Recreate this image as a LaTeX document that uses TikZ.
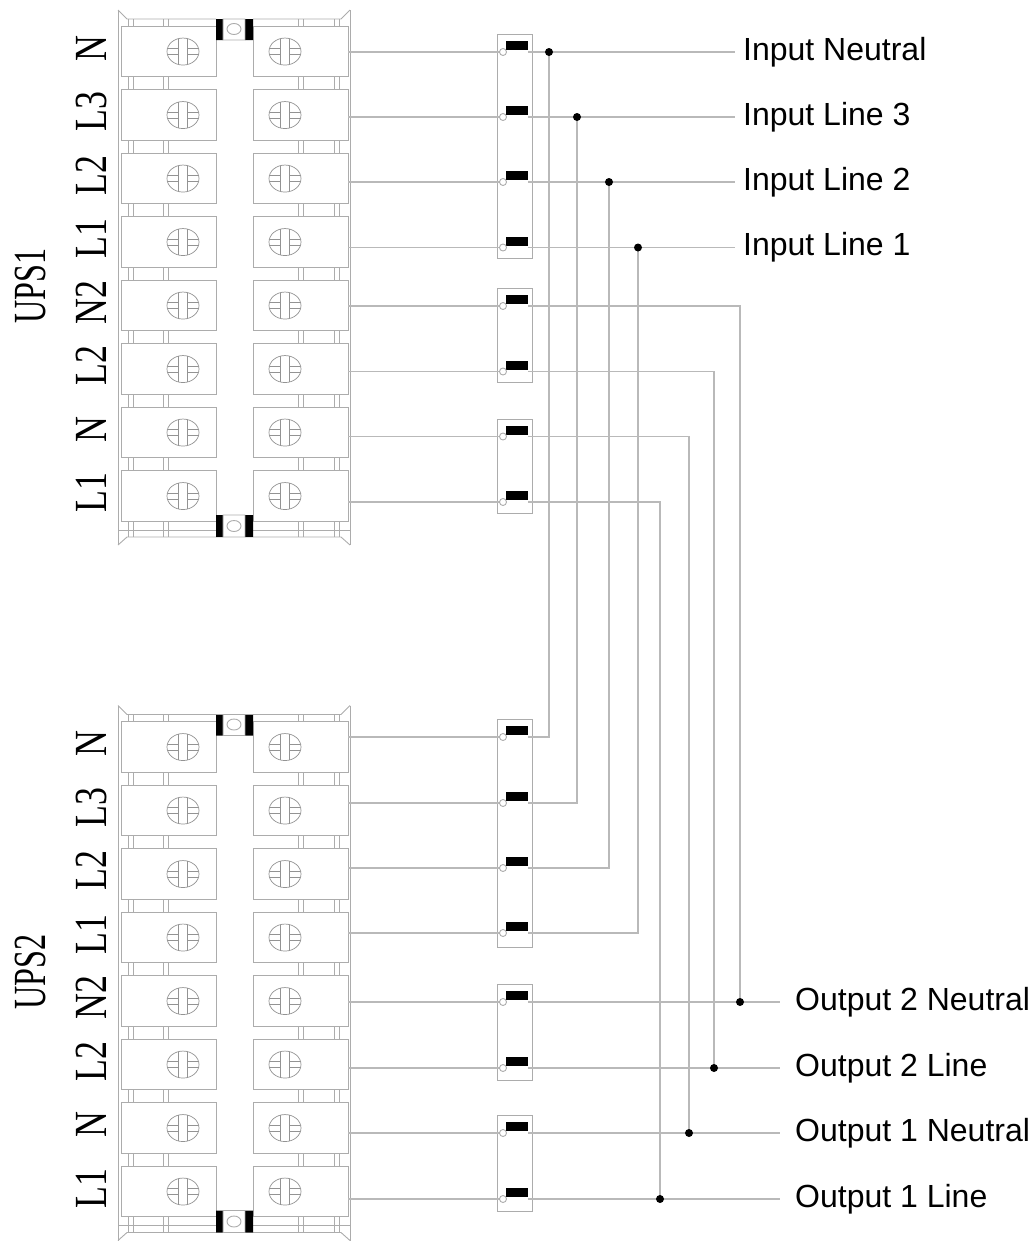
\documentclass[tikz,border=0pt]{standalone}
\usepackage{graphicx}
\usepackage{fontspec}
\setmainfont{Liberation Serif}
\newfontfamily\arialfont{Liberation Sans}
\tikzset{
  wire/.style={gray!55, line width=1.2pt},
  frame/.style={gray!65, line width=0.9pt},
  screwline/.style={gray!85, line width=0.7pt},
  termlabel/.style={rotate=90, font=\fontsize{46}{50}\selectfont, inner sep=0pt},
  inlabel/.style={anchor=west, font=\arialfont\fontsize{32}{38}\selectfont, inner ysep=0pt, inner xsep=8pt},
  outlabel/.style={inlabel, inner xsep=15pt},
  screw/.pic={
    \draw[screwline] (0,0) ellipse [x radius=16pt, y radius=13.5pt];
    \begin{scope}
      \clip (0,0) ellipse [x radius=16pt, y radius=13.5pt];
      \draw[screwline] (-4.5,-14) -- (-4.5,14) (4.5,-14) -- (4.5,14)
        (-17,-3) -- (-4.5,-3) (4.5,-3) -- (17,-3) (-17,3) -- (-4.5,3) (4.5,3) -- (17,3);
    \end{scope}
  }
}
\begin{document}
\begin{tikzpicture}[x=1pt, y=-1pt]
  \useasboundingbox (0,0) rectangle (1034,1243);
  \foreach \dy/\ups/\uy in {0/UPS1/286, 695.5/UPS2/276.5}{
    \begin{scope}[yshift=-\dy pt]
      \draw[frame] (118,10) -- (118,545) (350,10) -- (350,545);
      \draw[frame] (118,10) -- (127,19) -- (216,19) (253,19) -- (341,19) -- (350,10);
      \draw[frame] (118,545) -- (127,537) -- (216,537) (253,537) -- (341,537) -- (350,545);
      \draw[frame] (118,530) -- (216,530) (253,530) -- (350,530);
      \foreach \i [evaluate=\i as \ct using 26.3+63.5*\i] in {0,...,7}{
        \draw[frame] (121,\ct) rectangle (216,\ct+50.5) (253,\ct) rectangle (348,\ct+50.5);
        \pic at (183,\ct+25.25) {screw};
        \pic at (285,\ct+25.25) {screw};
      }
      \foreach \i [evaluate=\i as \ct using 26.3+63.5*\i] in {0,...,6}
        \foreach \tx in {128,133,163,168,298,303,334,339}
          \draw[frame, line width=0.5pt] (\tx,\ct+50.5) -- (\tx,\ct+63.5);
      \foreach \tx in {128,133,163,168,298,303,334,339}
        \draw[frame, line width=0.5pt] (\tx,19) -- (\tx,26.3) (\tx,521.3) -- (\tx,537);
      \fill (216,19) rectangle (223,40) (245,19) rectangle (253,40);
      \draw[frame] (223,19) rectangle (245,40) (234,29) ellipse [x radius=7pt, y radius=5.5pt];
      \fill (216,515) rectangle (223,537) (245,515) rectangle (253,537);
      \draw[frame] (223,515) rectangle (245,537) (234,526) ellipse [x radius=7pt, y radius=5.5pt];
      \foreach \t [count=\i from 0] in {N,L3,L2,L1,N2,L2,N,L1}
        \node[termlabel] (\ups-lab\i) at (91,26.3+63.5*\i+22) {\scalebox{0.78}[1]{\t}};
      \node[termlabel] (\ups) at (30,\uy) {\scalebox{0.7}[1]{\ups}};
    \end{scope}
  }

  \foreach \bt/\bb in {34/258, 288/382, 419/513, 719/947, 984/1080, 1115/1211}
    \draw[frame] (497,\bt) rectangle (532,\bb);

  \foreach \u/\i/\y in {1/1/52, 1/2/117, 1/3/182, 1/4/247.5, 1/5/306, 1/6/371.5, 1/7/436.5, 1/8/502,
                        2/1/737, 2/2/803, 2/3/868, 2/4/933, 2/5/1002, 2/6/1068, 2/7/1133, 2/8/1199}{
    \coordinate (u\u-t\i) at (348,\y);
    \coordinate (u\u-c\i) at (503,\y);
    \coordinate (u\u-o\i) at (528,\y);
    \draw[wire] (u\u-t\i) -- (u\u-c\i);
    \fill (506,\y-11) rectangle (528,\y-2);
    \draw[frame, fill=white] (u\u-c\i) circle [radius=3.5pt];
  }

  \node[inlabel] (inN) at (735,52) {Input Neutral};
  \node[inlabel] (inL3) at (735,117) {Input Line 3};
  \node[inlabel] (inL2) at (735,182) {Input Line 2};
  \node[inlabel] (inL1) at (735,247.5) {Input Line 1};
  \node[outlabel] (outN2) at (780,1002) {Output 2 Neutral};
  \node[outlabel] (outL2) at (780,1068) {Output 2 Line};
  \node[outlabel] (outN1) at (780,1133) {Output 1 Neutral};
  \node[outlabel] (outL1) at (780,1199) {Output 1 Line};

  \foreach \i/\n/\x/\y in {1/inN/549/52, 2/inL3/577/117, 3/inL2/609/182, 4/inL1/638/247.5}{
    \coordinate (j\i) at (\x,\y);
    \draw[wire] (u1-o\i) -- (\n.west);
    \draw[wire] (j\i) |- (u2-o\i);
    \fill (j\i) circle [radius=4pt];
  }
  \foreach \i/\n/\x/\y in {5/outN2/740/1002, 6/outL2/714/1068, 7/outN1/689/1133, 8/outL1/660/1199}{
    \coordinate (j\i) at (\x,\y);
    \draw[wire] (u1-o\i) -| (j\i);
    \draw[wire] (u2-o\i) -- (\n.west);
    \fill (j\i) circle [radius=4pt];
  }
\end{tikzpicture}
\end{document}
